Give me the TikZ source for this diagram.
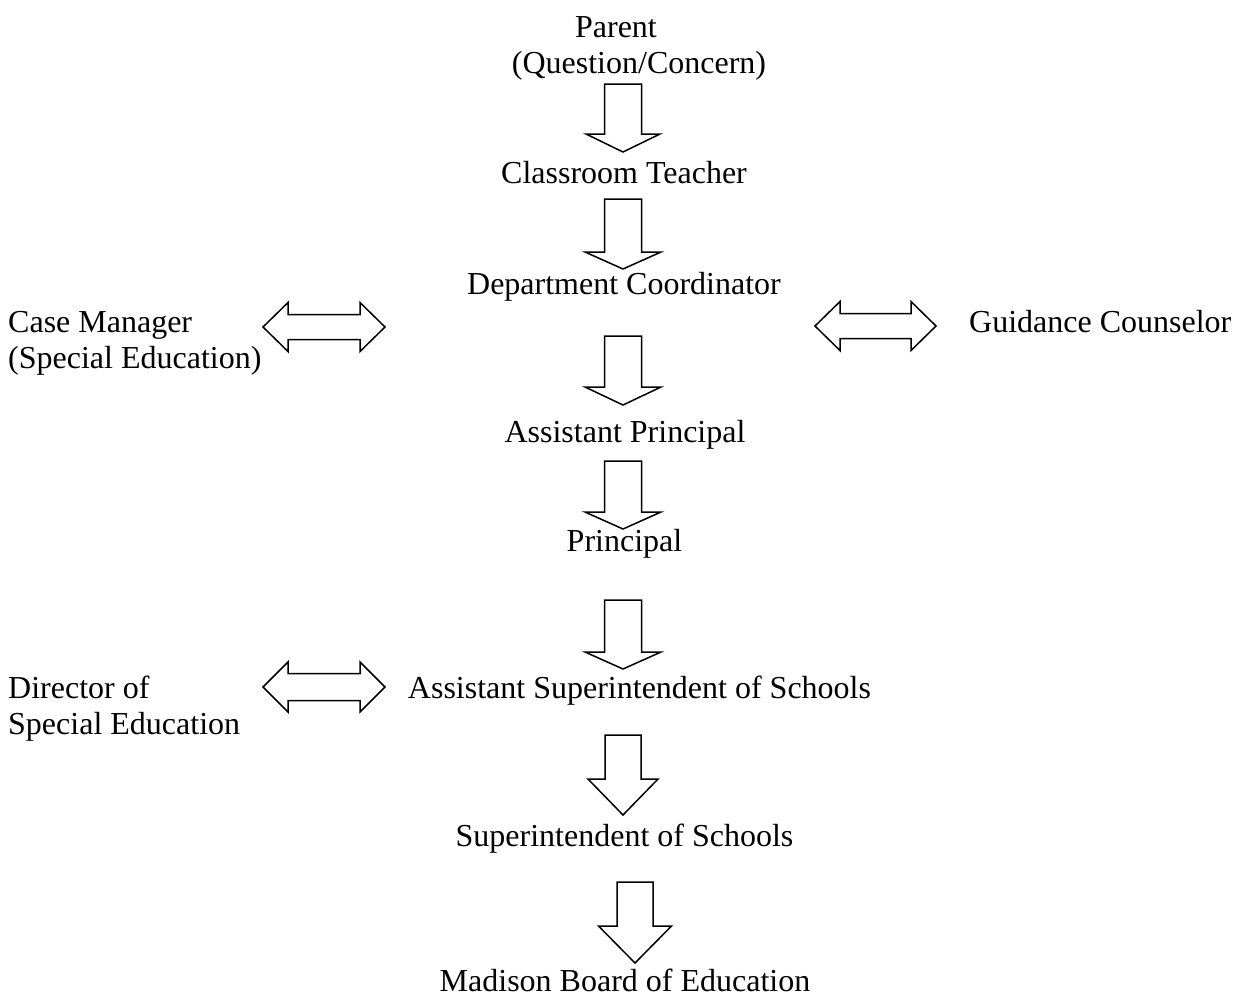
\documentclass[tikz,border=0pt]{standalone}
\usepackage{fontspec}
\setmainfont{Liberation Serif}
\usetikzlibrary{positioning}
\tikzset{entry/.style={font=\fontsize{32}{36}\selectfont, inner sep=0pt, anchor=base},
  blockarrow/.style={draw, line width=1.5pt, fill=white, line join=miter},
  pics/downblock/.style n args={4}{code={
    \draw[blockarrow] (-#1,0) -- (#1,0) -- (#1,#2) -- (#3,#2) -- (0,#2+#4) -- (-#3,#2) -- (-#1,#2) -- cycle;}},
  pics/bothblock/.style n args={4}{code={
    \draw[blockarrow] (-#1,0) -- (-#1+#2,-#3) -- (-#1+#2,-#4) -- (#1-#2,-#4) -- (#1-#2,-#3) -- (#1,0)
      -- (#1-#2,#3) -- (#1-#2,#4) -- (-#1+#2,#4) -- (-#1+#2,#3) -- cycle;}}}

\begin{document}
\begin{tikzpicture}[x=1pt,y=-1pt]
    \useasboundingbox (0,0) rectangle (1234,996);
    \node[entry] (parent) at (616,37.5) {Parent};
    \node[entry] (concern) at (639,73.5) {(Question/Concern)};
    \node[entry] (teacher) at (624,183.5) {Classroom Teacher};
    \node[entry] (coord) at (624,294.5) {Department Coordinator};
    \node[entry, anchor=base west] (casemgr) at (8,332.5) {Case Manager};
    \node[entry, anchor=base west] (casenote) at (8,368.5) {(Special Education)};
    \node[entry, anchor=base west] (guidance) at (969,332.5) {Guidance Counselor};
    \node[entry] (asstprin) at (625,442.5) {Assistant Principal};
    \node[entry] (principal) at (624.5,551.5) {Principal};
    \node[entry] (asstsup) at (639.5,698.5) {Assistant Superintendent of Schools};
    \node[entry, anchor=base west] (director) at (8,698.5) {Director of};
    \node[entry, anchor=base west] (specialed) at (8,734.5) {Special Education};
    \node[entry] (sup) at (624.5,846.5) {Superintendent of Schools};
    \node[entry] (board) at (625,991) {Madison Board of Education};

    \pic at (623,84) {downblock={18.5}{50}{37}{18}};
    \pic at (623,199) {downblock={18.5}{53}{38}{17}};
    \pic at (623,336) {downblock={18.5}{51}{38}{18}};
    \pic at (623,461) {downblock={18.5}{51}{38}{17}};
    \pic at (623,600) {downblock={18.5}{52}{38}{17}};
    \pic at (623,735) {downblock={18}{44}{35}{36}};
    \pic at (635,882) {downblock={18}{44}{36.5}{37}};

    \pic at (324,327) {bothblock={61}{25}{24.5}{12.5}};
    \pic at (875.5,326) {bothblock={60.5}{25}{24.5}{12.5}};
    \pic at (324,687) {bothblock={61}{25}{25}{13.5}};
\end{tikzpicture}
\end{document}
